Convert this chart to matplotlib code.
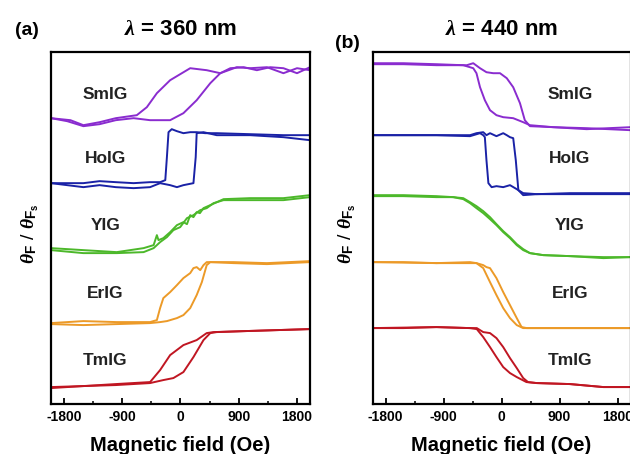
import matplotlib

matplotlib.use("Agg")
import matplotlib.pyplot as plt
from matplotlib.ticker import MultipleLocator

# Parameters
PLOT_FILE_PATH = "out.png"
FIELD_RANGE = (-2000, 2000)
SIGNAL_RANGE = (0, 35.2)

MATERIALS = ["SmIG", "HoIG", "YIG", "ErIG", "TmIG"]
COLORS = ["#8a2ccf", "#1a22a6", "#4cb82a", "#ec9a28", "#c01622"]
WAVELENGTHS = ["360", "440"]
FIELD_TICKS = [-1800, -900, 0, 900, 1800]

# label anchor (field, signal) for the material names in each panel
LABEL_FIELD = [-1160, 1060]
LABEL_SIGNAL = [31.0, 24.6, 17.9, 11.1, 4.4]

# ---- lambda = 360 nm, offset signal (a.u.) vs field (Oe), two sweep branches each
SMIG_360_H1 = [-2000, -1700, -1500, -1250, -1000, -675, -520, -365, -160, 150, 405, 615, 870, 1075, 1335, 1590, 1800, 2000]
SMIG_360_Y1 = [28.6, 28.4, 27.9, 28.2, 28.6, 28.9, 29.7, 31.1, 32.4, 33.6, 33.4, 33.1, 33.7, 33.6, 33.7, 33.1, 33.6, 33.4]
SMIG_360_H2 = [-2000, -1750, -1500, -1250, -1000, -725, -470, -160, 45, 250, 460, 615, 770, 975, 1180, 1385, 1590, 1800, 2000]
SMIG_360_Y2 = [28.6, 28.3, 27.8, 28.0, 28.4, 28.6, 28.4, 28.4, 29.1, 30.4, 32.1, 33.1, 33.6, 33.7, 33.4, 33.7, 33.6, 33.1, 33.7]

HOIG_360_H1 = [-2000, -1750, -1500, -1250, -1000, -725, -470, -315, -235, -210, -185, -135, -55, 45, 150, 250, 380, 560, 1075, 1590, 2000]
HOIG_360_Y1 = [22.1, 22.1, 22.1, 22.3, 22.2, 22.1, 22.2, 22.2, 22.4, 24.7, 27.2, 27.5, 27.3, 27.1, 27.2, 27.2, 27.1, 27.1, 27.0, 26.9, 26.9]
HOIG_360_H2 = [-2000, -1750, -1500, -1250, -1000, -725, -470, -315, -160, -55, 45, 200, 235, 250, 355, 560, 1075, 1590, 2000]
HOIG_360_Y2 = [22.1, 21.9, 21.7, 21.9, 21.7, 21.6, 21.7, 22.1, 21.9, 21.7, 21.9, 22.1, 24.7, 27.1, 27.2, 26.9, 26.9, 26.7, 26.4]

YIG_360_H1 = [-2000, -1500, -985, -570, -415, -365, -340, -265, -160, -55, 45, 100, 150, 200, 250, 300, 355, 460, 665, 1075, 1590, 2000]
YIG_360_Y1 = [15.6, 15.4, 15.2, 15.6, 15.9, 16.9, 16.4, 16.6, 17.2, 17.9, 18.2, 18.0, 18.9, 18.7, 19.2, 19.1, 19.6, 19.9, 20.5, 20.6, 20.6, 20.9]
YIG_360_H2 = [-2000, -1500, -985, -570, -415, -315, -210, -110, -5, 100, 200, 305, 405, 510, 665, 1075, 1590, 2000]
YIG_360_Y2 = [15.4, 15.1, 15.1, 15.2, 15.6, 16.2, 16.7, 17.4, 17.7, 18.6, 18.9, 19.4, 19.6, 20.1, 20.4, 20.4, 20.4, 20.7]

ERIG_360_H1 = [-2000, -1750, -1500, -985, -470, -365, -315, -265, -160, -55, 45, 150, 200, 250, 305, 355, 405, 820, 1335, 2000]
ERIG_360_Y1 = [8.1, 8.2, 8.3, 8.2, 8.2, 8.4, 9.6, 10.6, 11.2, 11.9, 12.6, 13.1, 13.6, 13.7, 13.4, 13.9, 14.2, 14.2, 14.1, 14.3]
ERIG_360_H2 = [-2000, -1500, -985, -470, -315, -210, -55, 45, 150, 250, 330, 405, 460, 820, 1335, 2000]
ERIG_360_Y2 = [8.0, 7.9, 8.0, 8.1, 8.2, 8.3, 8.6, 8.9, 9.6, 10.9, 12.2, 13.9, 14.2, 14.1, 14.0, 14.2]

TMIG_360_H1 = [-2000, -1500, -1000, -470, -315, -160, 45, 250, 405, 510, 1000, 1500, 2000]
TMIG_360_Y1 = [1.7, 1.8, 2.0, 2.2, 3.4, 4.9, 5.9, 6.4, 7.1, 7.2, 7.3, 7.4, 7.5]
TMIG_360_H2 = [-2000, -1500, -1000, -470, -265, -110, 45, 200, 355, 460, 560, 1000, 1500, 2000]
TMIG_360_Y2 = [1.6, 1.8, 1.9, 2.1, 2.4, 2.6, 3.2, 4.7, 6.4, 7.1, 7.2, 7.3, 7.4, 7.5]

# ---- lambda = 440 nm
SMIG_440_H1 = [-2000, -1525, -1010, -595, -440, -390, -335, -260, -180, -80, 25, 180, 335, 440, 800, 1320, 2000]
SMIG_440_Y1 = [34.1, 34.1, 34.0, 33.9, 33.6, 33.1, 31.7, 30.4, 29.4, 28.9, 28.7, 28.6, 28.2, 27.9, 27.7, 27.6, 27.4]
SMIG_440_H2 = [-2000, -1525, -1010, -540, -440, -335, -235, -130, -25, 80, 180, 285, 360, 440, 800, 1320, 2000]
SMIG_440_Y2 = [34.0, 34.0, 33.9, 33.9, 34.1, 33.6, 33.2, 33.1, 33.1, 32.6, 31.7, 30.1, 28.4, 27.8, 27.7, 27.5, 27.7]

HOIG_440_H1 = [-2000, -1525, -1010, -490, -335, -285, -260, -235, -205, -155, -80, 25, 130, 235, 335, 545, 1060, 1580, 2000]
HOIG_440_Y1 = [26.9, 26.9, 26.9, 26.8, 27.1, 26.9, 26.7, 24.4, 22.1, 21.7, 21.8, 21.7, 21.9, 21.5, 21.1, 21.0, 21.1, 21.1, 21.1]
HOIG_440_H2 = [-2000, -1010, -490, -390, -285, -235, -180, -80, 25, 80, 130, 180, 220, 260, 335, 545, 2000]
HOIG_440_Y2 = [26.9, 26.9, 26.9, 27.1, 27.2, 26.9, 27.1, 26.8, 27.1, 26.9, 26.7, 26.6, 24.4, 21.4, 20.9, 21.0, 21.0]

YIG_440_H1 = [-2000, -1525, -1010, -750, -595, -490, -390, -285, -180, -80, 25, 130, 235, 335, 440, 645, 1060, 1580, 2000]
YIG_440_Y1 = [20.9, 20.9, 20.8, 20.7, 20.6, 20.2, 19.8, 19.3, 18.7, 18.0, 17.3, 16.7, 16.0, 15.5, 15.1, 14.9, 14.8, 14.7, 14.7]
YIG_440_H2 = [-2000, -1525, -1010, -750, -595, -490, -390, -285, -180, -80, 25, 130, 235, 335, 440, 645, 1060, 1580, 2000]
YIG_440_Y2 = [20.8, 20.8, 20.7, 20.7, 20.5, 20.1, 19.6, 19.1, 18.5, 17.9, 17.2, 16.6, 15.9, 15.4, 15.1, 14.9, 14.8, 14.6, 14.7]

ERIG_440_H1 = [-2000, -1525, -1010, -490, -390, -285, -180, -80, 25, 130, 235, 335, 545, 1060, 1580, 2000]
ERIG_440_Y1 = [14.2, 14.2, 14.1, 14.1, 14.1, 13.6, 12.2, 10.9, 9.6, 8.6, 7.9, 7.6, 7.6, 7.6, 7.6, 7.6]
ERIG_440_H2 = [-2000, -1010, -490, -390, -285, -235, -180, -80, 25, 130, 235, 310, 390, 800, 1580, 2000]
ERIG_440_Y2 = [14.2, 14.1, 14.2, 14.1, 13.9, 13.7, 13.6, 12.6, 11.2, 9.9, 8.6, 7.7, 7.6, 7.6, 7.6, 7.6]

TMIG_440_H1 = [-2000, -1525, -1010, -490, -385, -285, -180, -80, 25, 130, 235, 385, 545, 1060, 1580, 2000]
TMIG_440_Y1 = [7.6, 7.6, 7.7, 7.6, 7.5, 6.7, 5.7, 4.7, 3.7, 3.1, 2.7, 2.2, 2.1, 2.0, 1.7, 1.7]
TMIG_440_H2 = [-2000, -1010, -490, -385, -285, -180, -80, 25, 130, 235, 335, 410, 545, 1060, 1580, 2000]
TMIG_440_Y2 = [7.6, 7.7, 7.6, 7.6, 7.2, 7.1, 6.6, 5.7, 4.6, 3.6, 2.6, 2.2, 2.1, 2.0, 1.7, 1.7]

PANELS = [
    [
        (SMIG_360_H1, SMIG_360_Y1, SMIG_360_H2, SMIG_360_Y2),
        (HOIG_360_H1, HOIG_360_Y1, HOIG_360_H2, HOIG_360_Y2),
        (YIG_360_H1, YIG_360_Y1, YIG_360_H2, YIG_360_Y2),
        (ERIG_360_H1, ERIG_360_Y1, ERIG_360_H2, ERIG_360_Y2),
        (TMIG_360_H1, TMIG_360_Y1, TMIG_360_H2, TMIG_360_Y2),
    ],
    [
        (SMIG_440_H1, SMIG_440_Y1, SMIG_440_H2, SMIG_440_Y2),
        (HOIG_440_H1, HOIG_440_Y1, HOIG_440_H2, HOIG_440_Y2),
        (YIG_440_H1, YIG_440_Y1, YIG_440_H2, YIG_440_Y2),
        (ERIG_440_H1, ERIG_440_Y1, ERIG_440_H2, ERIG_440_Y2),
        (TMIG_440_H1, TMIG_440_Y1, TMIG_440_H2, TMIG_440_Y2),
    ],
]

# y label horizontal position per panel, axes fraction
YLABEL_X = [-0.040, -0.056]


def main() -> None:
    plt.rcParams["font.family"] = ["Liberation Sans", "DejaVu Sans"]
    plt.rcParams["font.weight"] = "bold"
    plt.rcParams["mathtext.fontset"] = "custom"
    plt.rcParams["mathtext.rm"] = "Liberation Sans:bold"
    plt.rcParams["mathtext.it"] = "Liberation Serif:italic:bold"
    plt.rcParams["mathtext.bf"] = "Liberation Sans:bold"

    fig = plt.figure(figsize=(6.3, 4.54), dpi=100)
    ax_a = fig.add_axes([0.081, 0.110, 0.411, 0.775])
    ax_b = fig.add_axes([0.5916, 0.110, 0.4092, 0.775])

    for panel_index, ax in enumerate([ax_a, ax_b]):
        plot_panel(ax, PANELS[panel_index], LABEL_FIELD[panel_index])
        ax.yaxis.set_label_coords(YLABEL_X[panel_index], 0.485)

    # panel letters and wavelength titles
    fig.text(0.043, 0.932, "(a)", fontsize=14, fontweight="bold", ha="center", va="center")
    fig.text(0.286, 0.935, rf"$\lambda$ = {WAVELENGTHS[0]} nm", fontsize=16,
             fontweight="bold", ha="center", va="center")
    fig.text(0.552, 0.905, "(b)", fontsize=14, fontweight="bold", ha="center", va="center")
    fig.text(0.797, 0.935, rf"$\lambda$ = {WAVELENGTHS[1]} nm", fontsize=16,
             fontweight="bold", ha="center", va="center")

    fig.savefig(PLOT_FILE_PATH, dpi=100)


def plot_panel(ax, curves, label_field) -> None:
    for i, (h1, y1, h2, y2) in enumerate(curves):
        ax.plot(h1, y1, color=COLORS[i], lw=1.4)
        ax.plot(h2, y2, color=COLORS[i], lw=1.4)
        ax.text(label_field, LABEL_SIGNAL[i], MATERIALS[i], fontsize=12.5,
                fontweight="bold", color="#222222", ha="center", va="center")

    ax.set_xlim(*FIELD_RANGE)
    ax.set_ylim(*SIGNAL_RANGE)
    ax.set_xticks(FIELD_TICKS)
    ax.set_xticklabels([str(t) for t in FIELD_TICKS])
    ax.xaxis.set_minor_locator(MultipleLocator(450))
    ax.set_yticks([])
    ax.tick_params(axis="x", which="major", direction="in", length=4.5, width=1.3,
                   labelsize=10, pad=4)
    ax.tick_params(axis="x", which="minor", direction="in", length=2.5, width=1.1)
    for spine in ax.spines.values():
        spine.set_linewidth(1.6)

    ax.set_xlabel("Magnetic field (Oe)", fontsize=14.5, fontweight="bold", labelpad=9)
    ax.set_ylabel(r"$\theta_{\mathbf{F}}$ / $\theta_{\mathbf{F_s}}$", fontsize=14)


if __name__ == "__main__":
    main()
